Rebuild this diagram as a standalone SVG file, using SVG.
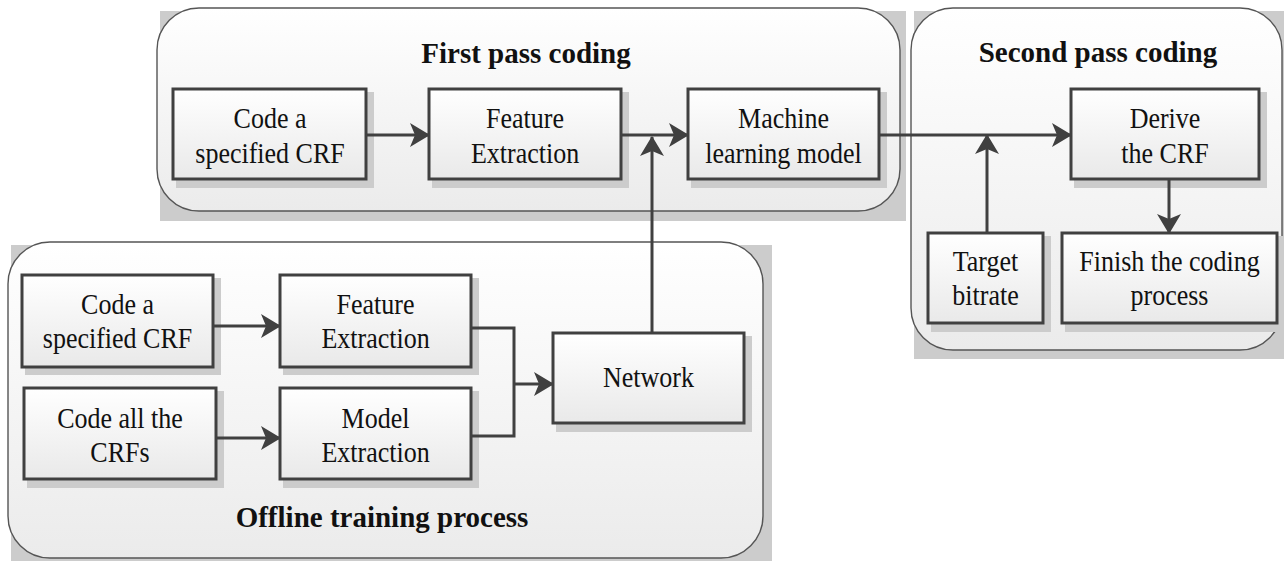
<svg xmlns="http://www.w3.org/2000/svg" width="1284" height="561" viewBox="0 0 1284 561">
<defs>
<linearGradient id="gc" x1="0" y1="0" x2="0" y2="1">
<stop offset="0" stop-color="#ffffff"/>
<stop offset="1" stop-color="#ebebeb"/>
</linearGradient>
<linearGradient id="gb" x1="0" y1="0" x2="0" y2="1">
<stop offset="0" stop-color="#ffffff"/>
<stop offset="1" stop-color="#e9e9e9"/>
</linearGradient>
<marker id="ah" markerWidth="20" markerHeight="24" refX="19" refY="12" orient="auto" markerUnits="userSpaceOnUse">
<path d="M0,0 L20,12 L0,24 L5,12 Z" fill="#404040"/>
</marker>
<style>
.csh{fill:#cccccc}
.cont{fill:url(#gc);stroke:#555555;stroke-width:1.4}
.bsh{fill:#cccccc}
.box{fill:url(#gb);stroke:#404040;stroke-width:3}
.t{font-family:"Liberation Serif","Times New Roman",serif;font-size:26px;fill:#111111;text-anchor:middle}
.title{font-family:"Liberation Serif","Times New Roman",serif;font-size:29px;font-weight:bold;fill:#111111;text-anchor:middle}
.c{fill:none;stroke:#404040;stroke-width:3}
.a{marker-end:url(#ah)}
</style>
</defs>
<rect width="1284" height="561" fill="#ffffff"/>

<g id="first-pass">
<rect class="csh" x="160" y="11" width="746" height="210"/>
<rect class="cont" x="157" y="8" width="743" height="203" rx="42" ry="42"/>
<text class="title" x="526" y="63">First pass coding</text>
</g>
<g id="second-pass">
<rect class="csh" x="914" y="11" width="370" height="348"/>
<rect class="cont" x="911" y="8" width="371" height="342" rx="42" ry="42"/>
<text class="title" x="1098" y="62">Second pass coding</text>
</g>
<g id="offline">
<rect class="csh" x="11" y="245" width="761" height="316"/>
<rect class="cont" x="8" y="242" width="755" height="316" rx="42" ry="42"/>
<text class="title" x="382" y="527">Offline training process</text>
</g>

<g id="code-specified-1">
<rect class="bsh" x="176" y="92" width="198" height="96"/>
<rect class="box" x="173" y="89" width="193" height="90"/>
<text class="t" transform="translate(270,128) scale(1,1.13)">Code a</text>
<text class="t" transform="translate(270,163) scale(1,1.13)">specified CRF</text>
</g>
<g id="feature-1">
<rect class="bsh" x="432" y="92" width="197" height="96"/>
<rect class="box" x="429" y="89" width="192" height="90"/>
<text class="t" transform="translate(525,128) scale(1,1.13)">Feature</text>
<text class="t" transform="translate(525,163) scale(1,1.13)">Extraction</text>
</g>
<g id="ml-model">
<rect class="bsh" x="691" y="92" width="196" height="96"/>
<rect class="box" x="688" y="89" width="191" height="90"/>
<text class="t" transform="translate(783.5,128) scale(1,1.13)">Machine</text>
<text class="t" transform="translate(783.5,163) scale(1,1.13)">learning model</text>
</g>
<g id="derive">
<rect class="bsh" x="1074" y="92" width="193" height="96"/>
<rect class="box" x="1071" y="89" width="188" height="90"/>
<text class="t" transform="translate(1165,128) scale(1,1.13)">Derive</text>
<text class="t" transform="translate(1165,163) scale(1,1.13)">the CRF</text>
</g>
<g id="target">
<rect class="bsh" x="931" y="236" width="120" height="96"/>
<rect class="box" x="928" y="233" width="115" height="90"/>
<text class="t" transform="translate(985.5,271) scale(1,1.13)">Target</text>
<text class="t" transform="translate(985.5,305) scale(1,1.13)">bitrate</text>
</g>
<g id="finish">
<rect class="bsh" x="1065" y="236" width="219" height="96"/>
<rect class="box" x="1062" y="233" width="215" height="90"/>
<text class="t" transform="translate(1169.5,271) scale(1,1.13)">Finish the coding</text>
<text class="t" transform="translate(1169.5,305) scale(1,1.13)">process</text>
</g>
<g id="code-specified-2">
<rect class="bsh" x="25" y="278" width="196" height="97"/>
<rect class="box" x="22" y="275" width="191" height="92"/>
<text class="t" transform="translate(117.5,314) scale(1,1.13)">Code a</text>
<text class="t" transform="translate(117.5,348) scale(1,1.13)">specified CRF</text>
</g>
<g id="feature-2">
<rect class="bsh" x="283" y="278" width="196" height="97"/>
<rect class="box" x="280" y="275" width="191" height="92"/>
<text class="t" transform="translate(375.5,314) scale(1,1.13)">Feature</text>
<text class="t" transform="translate(375.5,348) scale(1,1.13)">Extraction</text>
</g>
<g id="code-all">
<rect class="bsh" x="27" y="391" width="197" height="97"/>
<rect class="box" x="24" y="388" width="192" height="91"/>
<text class="t" transform="translate(120,428) scale(1,1.13)">Code all the</text>
<text class="t" transform="translate(120,462) scale(1,1.13)">CRFs</text>
</g>
<g id="model-extraction">
<rect class="bsh" x="283" y="391" width="196" height="97"/>
<rect class="box" x="280" y="388" width="191" height="91"/>
<text class="t" transform="translate(375.5,428) scale(1,1.13)">Model</text>
<text class="t" transform="translate(375.5,462) scale(1,1.13)">Extraction</text>
</g>
<g id="network">
<rect class="bsh" x="556" y="336" width="196" height="96"/>
<rect class="box" x="553" y="333" width="191" height="90"/>
<text class="t" transform="translate(648.5,387) scale(1,1.13)">Network</text>
</g>

<g id="connectors">
<line class="c a" x1="366" y1="135" x2="429" y2="135"/>
<line class="c a" x1="621" y1="135" x2="688" y2="135"/>
<line class="c a" x1="652" y1="333" x2="652" y2="137"/>
<line class="c a" x1="879" y1="135" x2="1071" y2="135"/>
<line class="c a" x1="987" y1="233" x2="987" y2="135"/>
<line class="c a" x1="1169" y1="179" x2="1169" y2="233"/>
<line class="c a" x1="213" y1="326" x2="280" y2="326"/>
<line class="c a" x1="216" y1="438" x2="280" y2="438"/>
<polyline class="c" points="471,328 514,328 514,436 471,436"/>
<line class="c a" x1="514" y1="384" x2="553" y2="384"/>
</g>
</svg>
